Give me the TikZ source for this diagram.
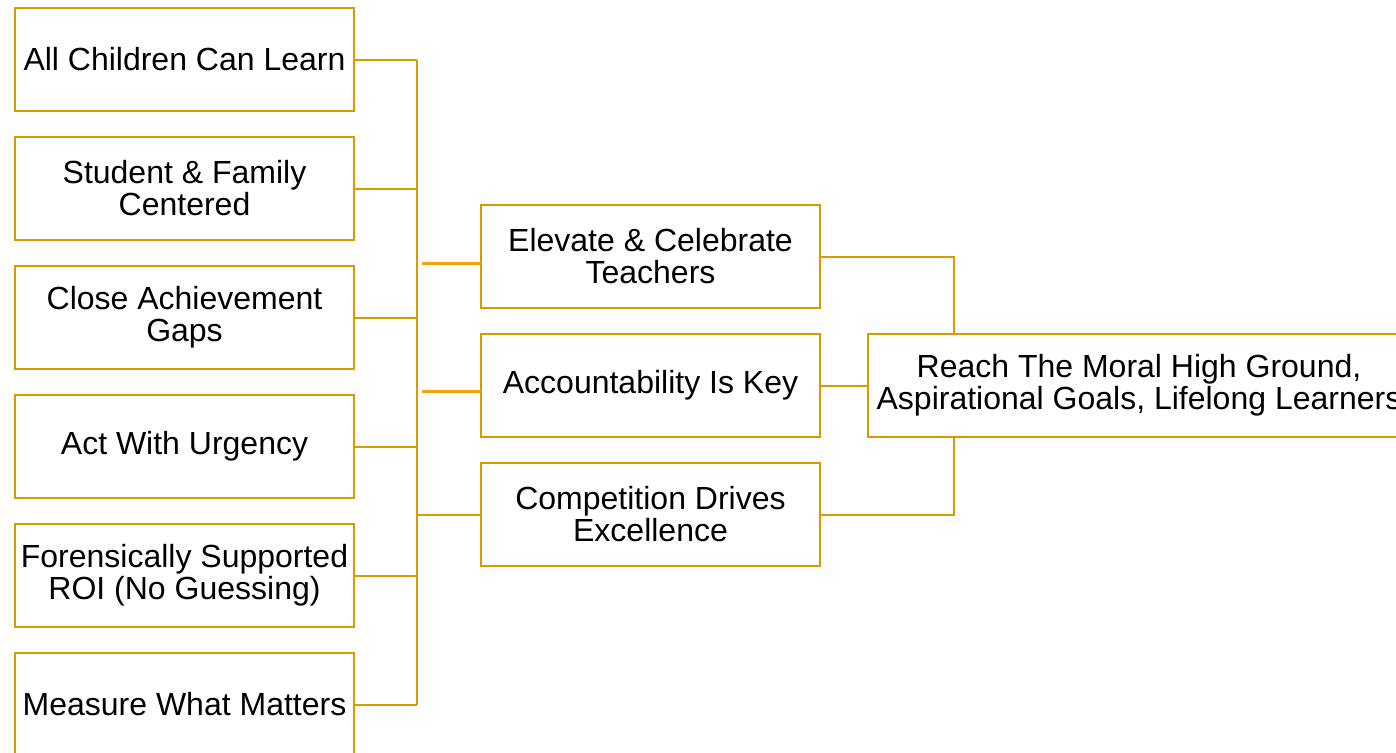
\documentclass[tikz,border=0pt]{standalone}
\usepackage{fontspec}
\setmainfont{Liberation Sans}
\usetikzlibrary{positioning}
\definecolor{stroke}{HTML}{D79B00}
\definecolor{bright}{HTML}{F0A30A}

\begin{document}
\begin{tikzpicture}[x=0.5pt, y=-0.5pt,
      node distance=13pt and 24pt,
      box/.style={draw=stroke, line width=1pt, fill=white, outer sep=0pt, inner sep=2pt,
        minimum width=169.5pt, minimum height=51.5pt, align=center,
        font=\fontsize{16}{16}\selectfont},
      link/.style={draw=stroke, line width=1pt},
      feed/.style={draw=bright, line width=1.5pt}]
    \useasboundingbox (0,0) rectangle (1396,752);
    % left column
    \node[box] (learn) at (184.5,59.5) {All Children Can Learn};
    \node[box] (family) [below=of learn] {Student \& Family\\Centered};
    \node[box] (gaps) [below=of family] {Close Achievement\\Gaps};
    \node[box] (urgency) [below=of gaps] {Act With Urgency};
    \node[box] (roi) [below=of urgency] {Forensically Supported\\ROI (No Guessing)};
    \node[box] (measure) [below=of roi] {Measure What Matters};
    % middle column
    \node[box] (elevate) at (650.5,256.5) {Elevate \& Celebrate\\Teachers};
    \node[box] (account) [below=of elevate] {Accountability Is Key};
    \node[box] (compete) [below=of account] {Competition Drives\\Excellence};
    % goal
    \node[box, minimum width=271pt] (goal) [right=of account] {Reach The Moral High Ground,\\Aspirational Goals, Lifelong Learners};

    \coordinate (bus) at (417,0);
    \coordinate (join) at (954,0);
    \coordinate (tapA) at (422,263);
    \coordinate (tapB) at (422,391);
    \foreach \n in {learn,family,gaps,urgency,roi,measure}
      \draw[link] (\n.east) -- (\n.east -| bus);
    \draw[link] (learn.east -| bus) -- (measure.east -| bus);
    \draw[feed] (tapA) -- (tapA -| elevate.west);
    \draw[feed] (tapB) -- (tapB -| account.west);
    \draw[link] (compete.west -| bus) -- (compete.west);
    \draw[link] (elevate.east) -| (join |- goal.north);
    \draw[link] (account.east) -- (goal.west);
    \draw[link] (compete.east) -| (join |- goal.south);
\end{tikzpicture}
\end{document}
